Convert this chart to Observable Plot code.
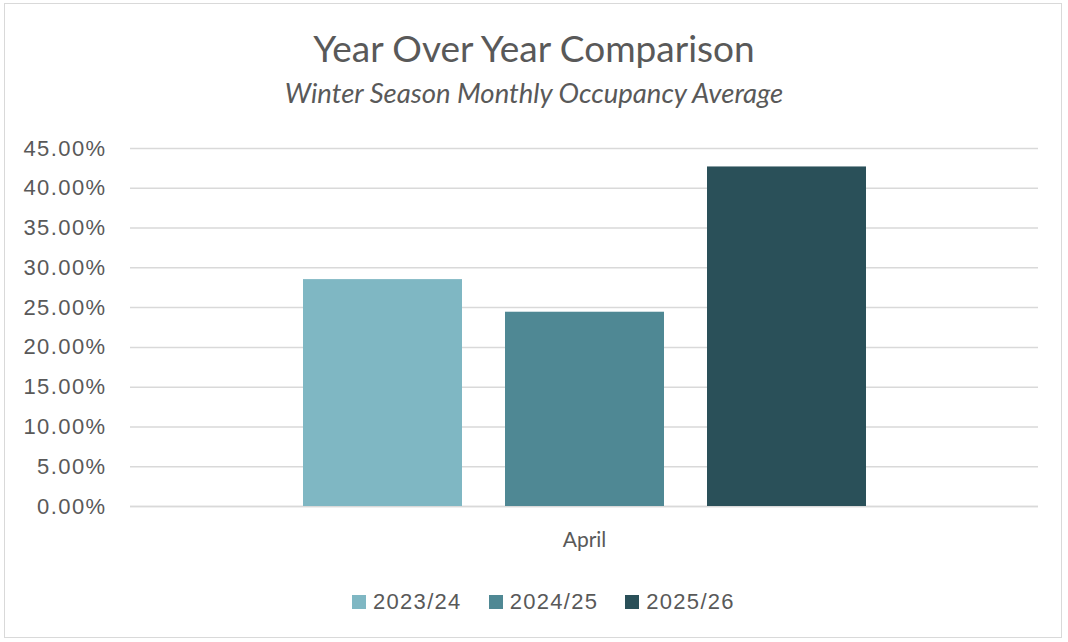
<!DOCTYPE html>
<html>
<head>
<meta charset="utf-8">
<script src="https://cdn.jsdelivr.net/npm/d3@7"></script>
<script src="https://cdn.jsdelivr.net/npm/@observablehq/plot@0.6"></script>
<style>
  html, body { margin: 0; padding: 0; background: #ffffff; }
  body { width: 1068px; height: 642px; position: relative; overflow: hidden; font-family: "Liberation Sans", Arial, sans-serif; }
  #frame { position: absolute; left: 4px; top: 3px; width: 1058px; height: 635px; border: 1.5px solid #d9d9d9; box-sizing: border-box; }
  #title { position: absolute; left: 0; width: 1068px; top: 29px; text-align: center; font-family: Lato, "Open Sans", sans-serif; font-size: 37px; color: #595959; line-height: 1; }
  #subtitle { position: absolute; left: 0; width: 1068px; top: 79px; text-align: center; font-family: Lato, "Open Sans", sans-serif; font-style: italic; font-size: 27.5px; color: #595959; line-height: 1; }
  #chart { position: absolute; left: 0; top: 120px; }
  #chart g[aria-label="y-axis tick label"] { letter-spacing: 1.4px; }
  #legend { position: absolute; left: 352px; top: 589px; display: flex; align-items: center; font-family: "Liberation Sans", Arial, sans-serif; font-size: 22px; letter-spacing: 1.3px; color: #595959; }
  .item { display: flex; align-items: center; margin-right: 27px; }
  .sw { width: 14px; height: 14px; margin-right: 7px; }
</style>
</head>
<body>
<div id="frame"></div>
<div id="title">Year Over Year Comparison</div>
<div id="subtitle">Winter Season Monthly Occupancy Average</div>
<div id="chart"></div>
<div id="legend"></div>
<script>
const months = ["April"];
const seasons = ["2023/24", "2024/25", "2025/26"];
const occupancy = [28.52, 24.42, 42.68]; // percent, April
const colors = ["#7fb7c3", "#4f8894", "#2a5059"];
const yTicks = [0, 5, 10, 15, 20, 25, 30, 35, 40, 45];

const data = seasons.map((s, i) => ({ month: months[0], season: s, value: occupancy[i] }));

const plot = Plot.plot({
  width: 1068,
  height: 440,
  marginTop: 28,
  marginBottom: 54,
  marginLeft: 130,
  marginRight: 30,
  style: { fontFamily: "Liberation Sans, Arial, sans-serif", color: "#595959", background: "transparent" },
  fx: { domain: months, padding: 0, label: null },
  x: { domain: seasons, paddingInner: 0.215, paddingOuter: 0.85, axis: null },
  y: { domain: [0, 45], label: null },
  color: { domain: seasons, range: colors },
  marks: [
    Plot.gridY(yTicks, { stroke: "#d9d9d9", strokeOpacity: 1, strokeWidth: 1.5 }),
    Plot.axisY(yTicks, { tickSize: 0, tickPadding: 24, tickFormat: d => d.toFixed(2) + "%", fontSize: 22, fill: "#595959", label: null }),
    Plot.ruleY([0], { stroke: "#d9d9d9", strokeWidth: 1.5 }),
    Plot.axisFx({ anchor: "bottom", tickSize: 0, tickPadding: 26, fontSize: 21, fontFamily: "Lato, Open Sans, sans-serif", fill: "#595959", label: null }),
    Plot.barY(data, { fx: "month", x: "season", y: "value", fill: "season" })
  ]
});
document.getElementById("chart").appendChild(plot);

const legend = document.getElementById("legend");
seasons.forEach((s, i) => {
  const item = document.createElement("div");
  item.className = "item";
  const sw = document.createElement("span");
  sw.className = "sw";
  sw.style.background = colors[i];
  const t = document.createElement("span");
  t.textContent = s;
  item.appendChild(sw);
  item.appendChild(t);
  legend.appendChild(item);
});
</script>
</body>
</html>
